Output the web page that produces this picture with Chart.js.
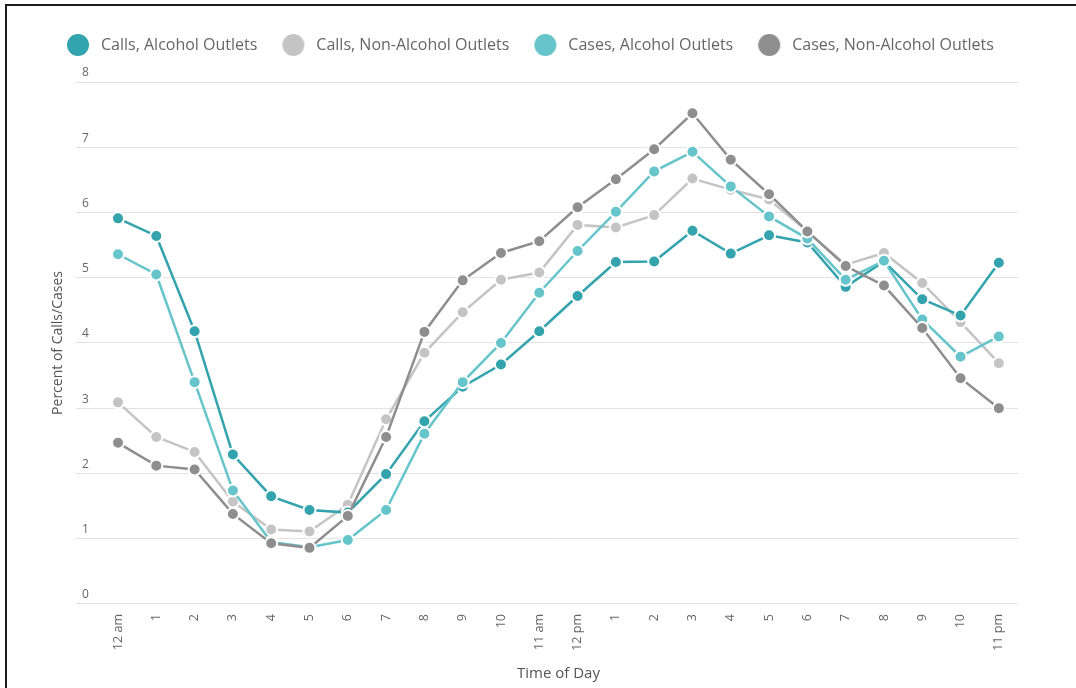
<!DOCTYPE html>
<html>
<head>
<meta charset="utf-8">
<script src="https://cdn.jsdelivr.net/npm/chart.js@4"></script>
<style>
  body { margin: 0; background: #fff; }
  #wrap { position: relative; width: 1076px; height: 688px; overflow: hidden; }
  #frame {
    position: absolute; left: 5px; top: 4px; right: -10px; bottom: -10px;
    border-top: 2px solid #1c1c1c; border-left: 2px solid #1c1c1c;
    pointer-events: none;
  }
</style>
</head>
<body>
<div id="wrap">
  <canvas id="chart"></canvas>
  <div id="frame"></div>
</div>
<script>
// hours of the day
const hours = ["12 am","1","2","3","4","5","6","7","8","9","10","11 am",
               "12 pm","1","2","3","4","5","6","7","8","9","10","11 pm"];

// percent of calls / cases per hour
const callsAlcohol = [5.91,5.64,4.18,2.29,1.65,1.44,1.40,1.99,2.80,3.33,3.67,4.18,
                      4.72,5.24,5.25,5.72,5.37,5.65,5.54,4.86,5.25,4.67,4.42,5.23];
const callsNonAlcohol = [3.09,2.56,2.33,1.57,1.14,1.11,1.52,2.83,3.85,4.47,4.97,5.08,
                         5.81,5.77,5.96,6.52,6.35,6.20,5.71,5.20,5.38,4.92,4.32,3.69];
const casesAlcohol = [5.36,5.05,3.40,1.74,0.95,0.87,0.98,1.44,2.61,3.40,4.00,4.77,
                      5.41,6.01,6.63,6.93,6.40,5.94,5.60,4.97,5.26,4.36,3.79,4.10];
const casesNonAlcohol = [2.47,2.12,2.06,1.38,0.93,0.86,1.35,2.56,4.17,4.96,5.38,5.56,
                         6.08,6.51,6.97,7.52,6.81,6.28,5.71,5.18,4.88,4.23,3.46,3.00];

const seriesNames = ["Calls, Alcohol Outlets","Calls, Non-Alcohol Outlets",
                     "Cases, Alcohol Outlets","Cases, Non-Alcohol Outlets"];
const seriesColors = ["#33a3ae","#c4c4c4","#66c4cb","#8e8e8e"];
const yTicks = [0,1,2,3,4,5,6,7,8];

const FONT = "'Open Sans', 'DejaVu Sans', sans-serif";

// big round dots for the legend
function makeDot(color){
  const c = document.createElement("canvas");
  c.width = 24; c.height = 24;
  const g = c.getContext("2d");
  g.fillStyle = color;
  g.beginPath();
  g.arc(12, 12, 11, 0, Math.PI * 2);
  g.fill();
  return c;
}
const dots = seriesColors.map(makeDot);

const allSeries = [callsAlcohol, callsNonAlcohol, casesAlcohol, casesNonAlcohol];
const drawOrder = [2, 3, 1, 0];

const datasets = allSeries.map((vals, i) => ({
  label: seriesNames[i],
  data: vals,
  borderColor: seriesColors[i],
  backgroundColor: seriesColors[i],
  pointBackgroundColor: seriesColors[i],
  pointBorderColor: "#ffffff",
  pointBorderWidth: 2,
  pointRadius: 6,
  borderWidth: 2.5,
  tension: 0,
  fill: false,
  order: drawOrder[i]
}));

// push the plot down a bit below the legend
const legendGap = {
  id: "legendGap",
  beforeInit(chart){
    const fit = chart.legend.fit;
    chart.legend.fit = function(){
      fit.bind(chart.legend)();
      this.height += 19;
    };
  }
};

const chart = new Chart(document.getElementById("chart"), {
  type: "line",
  data: { labels: hours, datasets: datasets },
  plugins: [legendGap],
  options: {
    responsive: true,
    maintainAspectRatio: false,
    animation: false,
    layout: { padding: { left: 42, right: 58, top: 16, bottom: 3 } },
    plugins: {
      tooltip: { enabled: false },
      legend: {
        position: "top",
        align: "start",
        labels: {
          usePointStyle: true,
          pointStyleWidth: 30,
          padding: 21,
          color: "#666",
          font: { family: FONT, size: 16 },
          generateLabels(chart){
            const items = Chart.defaults.plugins.legend.labels.generateLabels(chart);
            items.sort((a, b) => a.datasetIndex - b.datasetIndex);
            items.forEach(it => { it.pointStyle = dots[it.datasetIndex]; });
            return items;
          }
        }
      }
    },
    scales: {
      x: {
        offset: true,
        grid: { display: false, drawTicks: false },
        border: { display: false },
        ticks: {
          maxRotation: 90, minRotation: 90,
          autoSkip: false,
          padding: 10,
          color: "#666",
          font: { family: FONT, size: 12.6 }
        },
        title: {
          display: true,
          text: "Time of Day",
          color: "#555",
          font: { family: FONT, size: 15 },
          padding: { top: 4, bottom: 2 }
        }
      },
      y: {
        min: 0, max: 8,
        afterBuildTicks(scale){ scale.ticks = yTicks.map(v => ({ value: v })); },
        grid: { color: "#e2e2e2", tickLength: 23, tickColor: "#e2e2e2" },
        border: { display: false },
        ticks: {
          padding: -13,
          labelOffset: -9,
          color: "#666",
          font: { family: FONT, size: 12 }
        },
        title: {
          display: true,
          text: "Percent of Calls/Cases",
          color: "#555",
          font: { family: FONT, size: 14 },
          padding: { top: 7.6, bottom: 28.6 }
        }
      }
    }
  }
});
</script>
</body>
</html>
